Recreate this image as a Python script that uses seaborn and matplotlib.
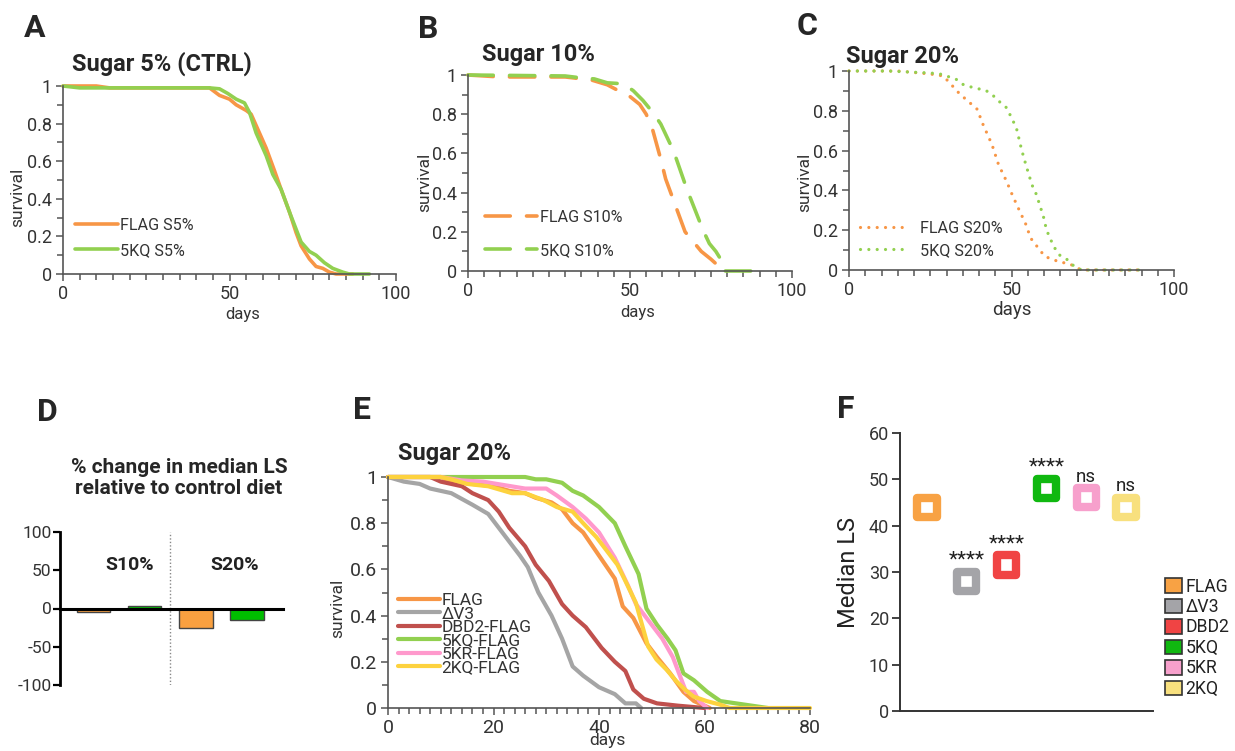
import matplotlib
matplotlib.use("Agg")
import matplotlib.pyplot as plt
from matplotlib.patches import Patch
from matplotlib.ticker import MultipleLocator, FuncFormatter
import numpy as np
import pandas as pd
import seaborn as sns

# ---- data ----
# A: sugar 5% (control)
a_days_flag = [0, 10, 14, 44, 47, 50, 52, 55, 56.5, 58.5, 61, 63.5, 65.5, 68, 70, 71.5, 74, 76, 78, 80, 82, 87]
a_flag = [1, 1, 0.99, 0.99, 0.95, 0.93, 0.90, 0.87, 0.85, 0.77, 0.67, 0.55, 0.45, 0.33, 0.22, 0.15, 0.08, 0.04, 0.03, 0.01, 0, 0]
a_days_5kq = [0, 5, 44, 47, 49.5, 52, 54.5, 56, 58, 61, 63, 65.5, 68, 71.5, 74, 76, 78.5, 81, 84, 86, 92]
a_5kq = [1, 0.99, 0.99, 0.985, 0.96, 0.93, 0.91, 0.86, 0.75, 0.63, 0.53, 0.45, 0.33, 0.17, 0.12, 0.10, 0.06, 0.03, 0.01, 0, 0]

# B: sugar 10%
b_days_flag = [0, 10, 30, 38, 43, 47, 50, 53, 55, 57, 59.5, 61, 63, 65, 67, 69, 72, 75, 79]
b_flag = [1, 0.99, 0.99, 0.975, 0.95, 0.915, 0.89, 0.85, 0.80, 0.72, 0.57, 0.47, 0.38, 0.29, 0.20, 0.16, 0.10, 0.06, 0]
b_days_5kq = [0, 30, 35, 39, 43, 48, 51, 54, 57, 59.5, 63.5, 67.5, 72.5, 74.5, 76.5, 78, 79, 85, 92]
b_5kq = [1, 0.995, 0.985, 0.98, 0.96, 0.955, 0.92, 0.87, 0.81, 0.75, 0.61, 0.42, 0.21, 0.14, 0.10, 0.06, 0, 0, 0]

# C: sugar 20%
c_days_flag = [0, 15, 25, 29, 31, 34, 36.5, 39.5, 41, 44, 46, 48.5, 50.3, 52.4, 54.4, 55.9, 57.5, 60.3,
               62.8, 64.7, 67.5, 69.5, 71.5, 91]
c_flag = [1, 1, 0.985, 0.975, 0.94, 0.886, 0.85, 0.807, 0.74, 0.63, 0.53, 0.445, 0.375, 0.30, 0.23, 0.16,
          0.126, 0.067, 0.054, 0.039, 0.034, 0.017, 0, 0]
c_days_5kq = [0, 12, 25, 28, 30, 33, 35, 37.5, 40, 42, 44.5, 46, 48.5, 50, 51.5, 53.1, 54.4, 55.7, 56.5,
              57.7, 58.5, 59.8, 60.8, 62, 63, 64.7, 67, 69.2, 71.5, 91]
c_5kq = [1, 1, 0.99, 0.985, 0.975, 0.958, 0.933, 0.92, 0.91, 0.904, 0.874, 0.85, 0.815, 0.765, 0.714, 0.605,
         0.53, 0.46, 0.42, 0.378, 0.336, 0.27, 0.20, 0.155, 0.118, 0.076, 0.054, 0.02, 0, 0]

# D: % change in median lifespan
d_diet = ["S10%", "S10%", "S20%", "S20%"]
d_geno = ["FLAG", "5KQ", "FLAG", "5KQ"]
d_change = [-5.2, 3.5, -25, -15.5]

# E: sugar 20%, all lines
e_days_flag = [0, 10, 12, 16, 20, 23, 26, 28, 31, 33, 35, 37, 40, 43, 44.5, 46.5, 49, 51, 53.5, 56, 58, 60, 61]
e_flag = [1, 1, 0.98, 0.97, 0.96, 0.94, 0.93, 0.91, 0.89, 0.86, 0.80, 0.76, 0.66, 0.56, 0.44, 0.39, 0.28,
          0.22, 0.15, 0.07, 0.03, 0.01, 0]
e_days_dv3 = [0, 3, 6, 8, 12, 16, 19, 22, 25, 26.5, 28.5, 31, 33, 35, 37, 40, 43, 45, 47, 48]
e_dv3 = [1, 0.98, 0.97, 0.95, 0.93, 0.88, 0.84, 0.75, 0.66, 0.61, 0.50, 0.40, 0.30, 0.18, 0.14, 0.09, 0.06,
         0.02, 0.02, 0]
e_days_dbd2 = [0, 8, 10, 14, 16, 19, 21, 23, 26, 28, 30.5, 33, 35, 37.5, 40.5, 43, 45, 46.5, 48.5, 51, 55, 60]
e_dbd2 = [1, 1, 0.98, 0.96, 0.93, 0.90, 0.85, 0.78, 0.70, 0.62, 0.55, 0.45, 0.40, 0.35, 0.26, 0.20, 0.16,
          0.08, 0.04, 0.02, 0.01, 0]
e_days_5kq = [0, 26, 28, 30, 33, 35, 37, 40, 43, 45, 47.5, 49, 51, 53, 54.5, 56, 58, 60.5, 63, 66, 69, 72]
e_5kq = [1, 1, 0.99, 0.99, 0.975, 0.94, 0.92, 0.87, 0.80, 0.70, 0.58, 0.43, 0.36, 0.30, 0.25, 0.15, 0.12,
         0.07, 0.03, 0.02, 0.01, 0]
e_days_5kr = [0, 10, 14, 18, 22, 26, 30, 32, 35, 37.5, 40, 43, 45.5, 47, 50, 52, 54, 56.5, 58, 59, 60.5]
e_5kr = [1, 1, 0.985, 0.98, 0.965, 0.95, 0.95, 0.92, 0.87, 0.82, 0.76, 0.65, 0.53, 0.45, 0.36, 0.30, 0.22,
         0.07, 0.07, 0.03, 0]
e_days_2kq = [0, 10, 12, 15, 19, 22, 23.5, 26, 29.5, 32, 35, 37, 39.5, 43.5, 45, 47, 49.3, 50.9, 52.8, 54.7,
              56.3, 57.9, 60.4, 62.9, 64.8, 80]
e_2kq = [1, 1, 0.99, 0.97, 0.96, 0.94, 0.93, 0.93, 0.90, 0.87, 0.85, 0.80, 0.74, 0.62, 0.55, 0.455, 0.267,
         0.21, 0.166, 0.115, 0.08, 0.05, 0.03, 0.015, 0, 0]
e_labels = ["FLAG", "ΔV3", "DBD2-FLAG", "5KQ-FLAG", "5KR-FLAG", "2KQ-FLAG"]

# F: median lifespan
f_labels = ["FLAG", "ΔV3", "DBD2", "5KQ", "5KR", "2KQ"]
f_median = [44, 28, 31.5, 48, 46, 44]
f_sig = ["", "****", "****", "****", "ns", "ns"]

ORANGE = "#F79646"
GREEN = "#92D050"
e_colors = ["#F79646", "#A5A5A5", "#C0504D", "#92D050", "#FF99CC", "#FDD23E"]
f_colors = ["#F8A244", "#A4A4A8", "#F04444", "#10B810", "#F7A0CC", "#F8E07E"]

sns.set_style("ticks")
plt.rcParams["font.family"] = ["Roboto", "DejaVu Sans"]
plt.rcParams["axes.unicode_minus"] = False

W, H = 1235, 751
fig = plt.figure(figsize=(W / 100, H / 100), dpi=100)


def px_axes(left, top, right, bottom):
    return fig.add_axes([left / W, 1 - bottom / H, (right - left) / W, (bottom - top) / H])


def survival(ax, days, surv, color, label, lw=2.6, ls="-"):
    sns.lineplot(x=days, y=surv, ax=ax, color=color, lw=lw, linestyle=ls, label=label,
                 errorbar=None, clip_on=False, solid_capstyle="round", dash_capstyle="round")


def style_surv(ax, xmax, xmajor, xminor, fs, ylab_xy, xlab_xy, fs_lab, fs_xlab):
    ax.set_xlim(0, xmax)
    ax.set_ylim(0, 1)
    ax.xaxis.set_major_locator(MultipleLocator(xmajor))
    ax.xaxis.set_minor_locator(MultipleLocator(xminor))
    ax.yaxis.set_major_locator(MultipleLocator(0.2))
    ax.yaxis.set_minor_locator(MultipleLocator(0.1))
    ax.yaxis.set_major_formatter(FuncFormatter(lambda v, p: f"{v:g}"))
    sns.despine(ax=ax)
    for s in ("left", "bottom"):
        ax.spines[s].set_color("#555555")
        ax.spines[s].set_linewidth(1.2)
    ax.tick_params(which="both", direction="out", color="#555555", width=1.1, labelcolor="#333333",
                   labelsize=fs, pad=3)
    ax.tick_params(which="major", length=5)
    ax.tick_params(which="minor", length=4)
    ax.set_ylabel("survival", fontsize=fs_lab, color="#333333")
    ax.set_xlabel("days", fontsize=fs_xlab, color="#333333")
    ax.yaxis.set_label_coords(*ylab_xy)
    ax.xaxis.set_label_coords(*xlab_xy)


def letter(x, y, t):
    fig.text(x / W, 1 - y / H, t, fontsize=23, fontweight="bold", ha="center", va="center")


def title(x, y, t):
    fig.text(x / W, 1 - y / H, t, fontsize=17, fontweight="bold", ha="left", va="center")


leg_kw = dict(loc="upper left", frameon=False, borderpad=0, borderaxespad=0, labelcolor="#333333")

# ---- A ----
axA = px_axes(63, 86, 396, 274)
survival(axA, a_days_flag, a_flag, ORANGE, "FLAG S5%")
survival(axA, a_days_5kq, a_5kq, GREEN, "5KQ S5%")
style_surv(axA, 100, 50, 5, 13, (-0.114, 0.41), (0.54, -0.175), 12.5, 12)
axA.legend(bbox_to_anchor=(0.036, 0.30), fontsize=11.6, labelspacing=0.64, handlelength=2.7,
           handletextpad=0.1, **leg_kw)
letter(35, 28, "A")
title(72, 64, "Sugar 5% (CTRL)")

# ---- B ----
axB = px_axes(468, 75, 792, 271)
survival(axB, b_days_flag, b_flag, ORANGE, "FLAG S10%", ls=(0, (7, 4.5)))
survival(axB, b_days_5kq, b_5kq, GREEN, "5KQ S10%", ls=(0, (7, 4.5)))
style_surv(axB, 100, 50, 5, 13, (-0.111, 0.45), (0.525, -0.173), 12.5, 12)
axB.legend(bbox_to_anchor=(0.052, 0.313), fontsize=11.6, labelspacing=1.14, handlelength=3.25,
           handletextpad=0.15, **leg_kw)
letter(428, 29, "B")
title(482, 55, "Sugar 10%")

# ---- C ----
axC = px_axes(849, 71, 1174, 270)
survival(axC, c_days_flag, c_flag, ORANGE, "FLAG S20%", lw=2.3, ls=(0, (0.01, 2.6)))
survival(axC, c_days_5kq, c_5kq, GREEN, "5KQ S20%", lw=2.3, ls=(0, (0.01, 2.6)))
style_surv(axC, 100, 50, 5, 13, (-0.114, 0.44), (0.5, -0.156), 12.5, 13.5)
axC.legend(bbox_to_anchor=(0.034, 0.248), fontsize=11.6, labelspacing=0.45, handlelength=3.1,
           handletextpad=0.6, **leg_kw)
letter(807, 26, "C")
title(846, 56, "Sugar 20%")

# ---- D ----
axD = px_axes(60, 532, 283, 685)
d_df = pd.DataFrame({"pos": [0, 1, 2, 3], "geno": d_geno, "diet": d_diet, "change": d_change})
sns.barplot(data=d_df, x="pos", y="change", hue="geno", palette={"FLAG": "#F9A040", "5KQ": "#00BE00"},
            width=0.65, dodge=False, edgecolor="#444444", linewidth=1.0, legend=False, ax=axD,
            native_scale=True, saturation=1)
axD.set_xlim(-0.65, 3.7)
axD.set_ylim(-100, 100)
axD.yaxis.set_major_locator(MultipleLocator(50))
sns.despine(ax=axD)
axD.spines["bottom"].set_position(("data", 0))
axD.spines["bottom"].set_linewidth(2.2)
axD.spines["bottom"].set_color("black")
axD.spines["left"].set_linewidth(2.0)
axD.spines["left"].set_color("black")
axD.set_xticks([])
axD.set_xlabel("")
axD.set_ylabel("")
axD.tick_params(axis="y", direction="out", length=5, width=1.6, color="black", labelsize=12.5,
                labelcolor="#333333", pad=1)
axD.axvline(1.5, color="#888888", lw=1.0, ls=(0, (1, 1.5)))
for diet, xpos in zip(["S10%", "S20%"], [0.7, 2.75]):
    axD.text(xpos, 57.5, diet, fontsize=14, fontweight="bold", ha="center", va="center", color="#222222")
letter(47, 412, "D")
fig.text(179 / W, 1 - 478 / H, "% change in median LS\nrelative to control diet", fontsize=15,
         fontweight="bold", ha="center", va="center", linespacing=1.1)

# ---- E ----
axE = px_axes(388, 477, 810, 708)
for days, surv, col, lab in zip([e_days_flag, e_days_dv3, e_days_dbd2, e_days_5kq, e_days_5kr, e_days_2kq],
                                [e_flag, e_dv3, e_dbd2, e_5kq, e_5kr, e_2kq], e_colors, e_labels):
    survival(axE, days, surv, col, lab, lw=3.0)
style_surv(axE, 80, 20, 2, 14, (-0.102, 0.43), (0.519, -0.108), 12.5, 12.5)
axE.legend(bbox_to_anchor=(0.024, 0.498), fontsize=12.5, labelspacing=-0.1, handlelength=2.4,
           handletextpad=0.1, **leg_kw)
letter(362, 410, "E")
title(398, 453, "Sugar 20%")

# ---- F ----
axF = px_axes(900, 433, 1153, 711)
f_df = pd.DataFrame({"pos": np.arange(len(f_labels)), "geno": f_labels, "median": f_median})
sns.scatterplot(data=f_df, x="pos", y="median", hue="geno", palette=dict(zip(f_labels, f_colors)),
                marker="s", s=190, linewidth=6.0, legend=False, ax=axF, clip_on=False)
coll = axF.collections[0]
coll.set_edgecolors(coll.get_facecolors())
coll.set_facecolors("white")
for xpos, yv, sig in zip(f_df["pos"], f_median, f_sig):
    if sig:
        axF.text(xpos, yv + 4.6, sig, fontsize=15 if sig.startswith("*") else 13.5,
                 ha="center", va="center", color="#222222")
axF.set_xlim(-0.68, 5.68)
axF.set_ylim(0, 60)
axF.yaxis.set_major_locator(MultipleLocator(10))
axF.set_xticks([])
axF.set_xlabel("")
axF.set_ylabel("Median LS", fontsize=17, color="#222222", labelpad=6)
sns.despine(ax=axF)
for s in ("left", "bottom"):
    axF.spines[s].set_color("#333333")
    axF.spines[s].set_linewidth(1.4)
axF.tick_params(axis="y", direction="out", length=6, width=1.3, color="#333333", labelsize=13,
                labelcolor="#333333", pad=2)
handles = [Patch(facecolor=c, edgecolor="#333333", linewidth=1.2, label=l) for c, l in zip(f_colors, f_labels)]
axF.legend(handles=handles, loc="upper left", bbox_to_anchor=(1.047, 0.48), frameon=False, fontsize=12.7,
           borderpad=0, borderaxespad=0, labelspacing=0.14, handlelength=0.97, handleheight=0.9,
           handletextpad=0.2, labelcolor="#222222")
letter(846, 409, "F")

fig.savefig("out.png", dpi=100, facecolor="white")
